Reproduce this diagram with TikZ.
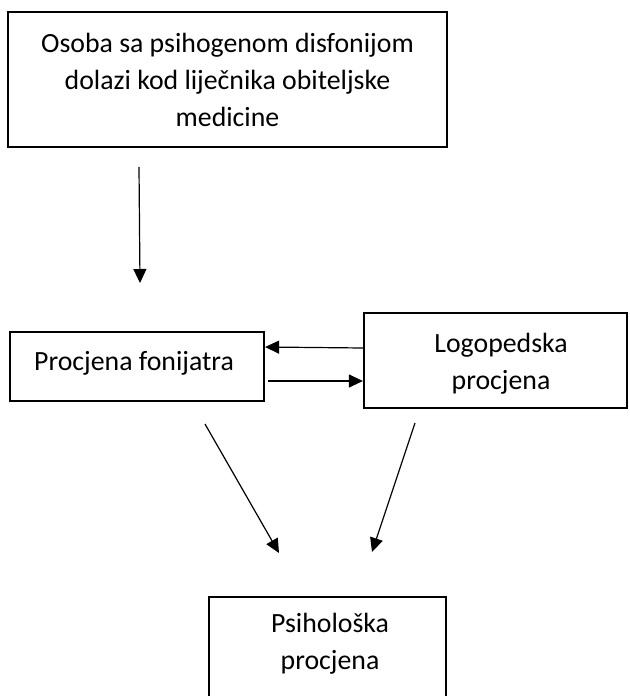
\documentclass[tikz,border=0pt]{standalone}
\usepackage{fontspec}
\setmainfont{Carlito}
\usetikzlibrary{arrows.meta,positioning}

\tikzset{
  box/.style={draw, line width=1.1pt, rectangle, inner sep=0pt, align=center},
  label/.style={align=center, inner sep=0pt},
  flow/.style={line width=0.6pt, -{Triangle[length=7pt,width=6.5pt]}}
}

\begin{document}
\begin{tikzpicture}[x=0.5pt, y=-0.5pt]
    \clip (0,0) rectangle (629,696);
    \fill[white] (0,0) rectangle (629,696);

    \fontsize{13.9pt}{18.5pt}\selectfont

    % Boxes
    \node[box, minimum width=219.5pt, minimum height=67.5pt] (patient) at (227.5,79.5)
        {Osoba sa psihogenom disfonijom\\dolazi kod liječnika obiteljske\\medicine};
    \node[box, minimum width=127pt, minimum height=34.5pt] (fon) at (137,366.5) {};
    \node[label] (fontxt) at (134,363) {Procjena fonijatra};
    \node[box, minimum width=131.5pt, minimum height=47.5pt] (logo) at (495.5,360.5) {};
    \node[label] (logotxt) at (501,363.5) {Logopedska\\procjena};
    \node[box, minimum width=118.5pt, minimum height=70pt, anchor=north] (psih) at (327.5,596) {};
    \node[label] (psihtxt) at (330,643.5) {Psihološka\\procjena};

    % Free arrow ends
    \coordinate (a1) at (139,167);
    \coordinate (a2) at (140,283);
    \coordinate (b1) at (205,424);
    \coordinate (b2) at (279,553);
    \coordinate (c1) at (415,423);
    \coordinate (c2) at (372,552);

    % Arrows
    \draw[flow] (a1) -- (a2);
    \draw[flow] (logo.west |- 0,348) -- (fon.east |- 0,347);
    \draw[flow] (268,381) -- (logo.west |- 0,381);
    \draw[flow] (b1) -- (b2);
    \draw[flow] (c1) -- (c2);
\end{tikzpicture}
\end{document}
